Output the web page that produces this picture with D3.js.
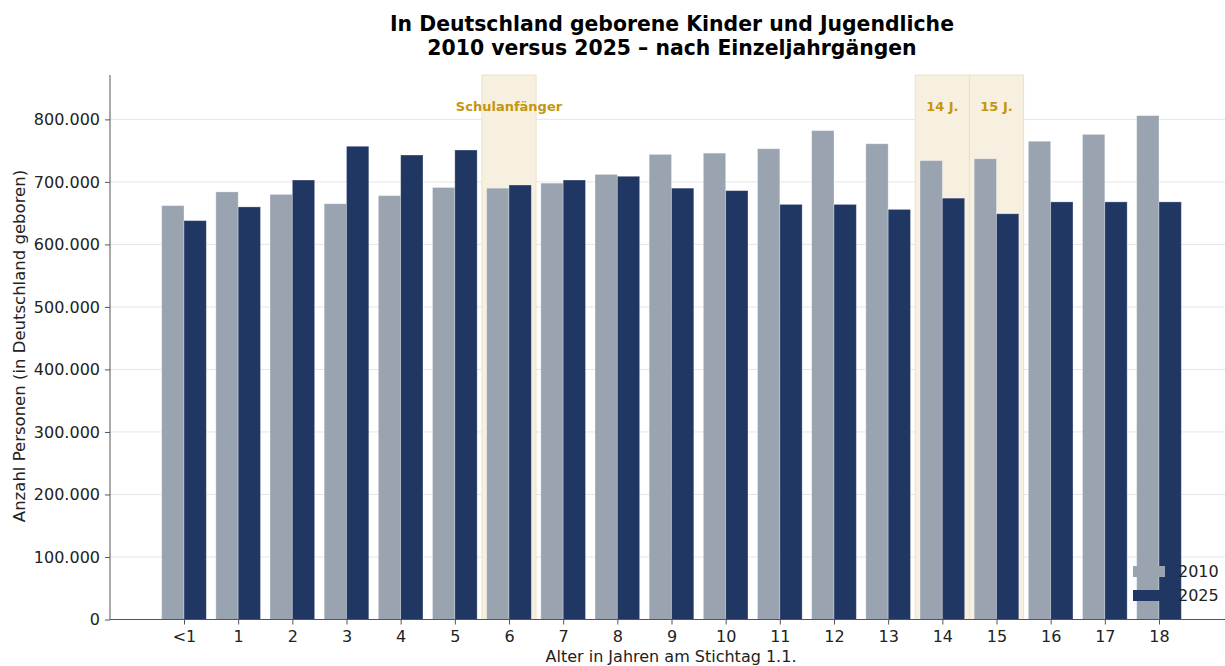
<!DOCTYPE html>
<meta charset="utf-8">
<head>
	<title>Kinder und Jugendliche 2010 vs 2025</title>
</head>

<style>

body{
	margin: 0;
	background: #fff;
}

svg{
	font-family: "DejaVu Sans", sans-serif;
}

.grid line{
	stroke: #e6e6e6;
}

</style>

<body>

<svg class="chart" width="1225" height="666"></svg>

<script src="https://cdnjs.cloudflare.com/ajax/libs/d3/7.8.5/d3.min.js"></script>
<script>

// Alter (Einzeljahrgänge)
var ages = ['<1', '1', '2', '3', '4', '5', '6', '7', '8', '9', '10', '11', '12', '13', '14', '15', '16', '17', '18'];

// Anzahl Personen, in Deutschland geboren
var values2010 = [662000, 684000, 680000, 665000, 678000, 691000, 690000, 698000, 712000, 744000,
	746000, 753000, 782000, 761000, 734000, 737000, 765000, 776000, 806000];
var values2025 = [638000, 660000, 703000, 757000, 743000, 751000, 695000, 703000, 709000, 690000,
	686000, 664000, 664000, 656000, 674000, 649000, 668000, 668000, 668000];

var seriesNames = ['2010', '2025'];
var colors = ['#9aa4b1', '#213763'];

var yTicks = [0, 100000, 200000, 300000, 400000, 500000, 600000, 700000, 800000];

// hervorgehobene Jahrgänge
var highlights = [
	{age: '6', label: 'Schulanfänger'},
	{age: '14', label: '14 J.'},
	{age: '15', label: '15 J.'}
];

var svg = d3.select('.chart');

// Plotbereich (window.top ist reserviert, daher eigene Namen)
var plotL = 110, plotR = 1225, plotT = 75, plotB = 619.5;

var x = d3.scalePoint()
	.domain(ages)
	.range([184, 1159]);
var step = x.step();
var barW = step * 0.412;

var y = d3.scaleLinear()
	.domain([0, 871000])
	.range([plotB, plotT]);

var fmt = function(d){
	return d3.format(',')(d).replace(/,/g, '.');
};

// grid
svg.append('g')
	.attr('class', 'grid')
	.selectAll('line')
	.data(yTicks)
	.enter()
	.append('line')
	.attr('x1', plotL)
	.attr('x2', plotR)
	.attr('y1', function(d){ return y(d); })
	.attr('y2', function(d){ return y(d); });

// highlight bands
var hl = svg.append('g');
hl.selectAll('rect')
	.data(highlights)
	.enter()
	.append('rect')
	.attr('x', function(d){ return x(d.age) - step / 2; })
	.attr('width', step)
	.attr('y', plotT)
	.attr('height', plotB - plotT)
	.attr('fill', '#f7f0e0')
	.attr('stroke', '#ede1c1')
	.attr('stroke-width', 1);

// bars
var series = [values2010, values2025];
svg.selectAll('.series')
	.data(series)
	.enter()
	.append('g')
	.classed('series', true)
	.style('fill', function(d, i){
		return colors[i];
	})
	.each(function(vals, si){
		d3.select(this)
			.selectAll('rect')
			.data(vals)
			.enter()
			.append('rect')
			.attr('x', function(d, i){
				return x(ages[i]) + (si === 0 ? -barW : 0);
			})
			.attr('width', barW)
			.attr('y', function(d){ return y(d); })
			.attr('height', function(d){ return y(0) - y(d); })
			.attr('stroke', 'rgba(255,255,255,0.35)')
			.attr('stroke-width', 0.8);
	});

// highlight labels
hl.selectAll('text')
	.data(highlights)
	.enter()
	.append('text')
	.attr('x', function(d){ return x(d.age); })
	.attr('y', 111)
	.attr('text-anchor', 'middle')
	.attr('font-size', 13)
	.attr('font-weight', 'bold')
	.attr('fill', '#c4960e')
	.text(function(d){ return d.label; });

// axes
var yAxis = d3.axisLeft(y)
	.tickValues(yTicks)
	.tickFormat(fmt)
	.tickSize(5)
	.tickPadding(5);
var gy = svg.append('g')
	.attr('transform', 'translate(' + plotL + ',0)')
	.call(yAxis);
gy.select('.domain').attr('d', 'M0,' + plotT + 'V' + plotB);

var xAxis = d3.axisBottom(x)
	.tickSize(5)
	.tickPadding(6);
var gx = svg.append('g')
	.attr('transform', 'translate(0,' + plotB + ')')
	.call(xAxis);
gx.select('.domain').attr('d', 'M' + plotL + ',0H' + plotR);

svg.selectAll('.tick text')
	.attr('font-size', 16)
	.attr('font-family', '"DejaVu Sans", sans-serif')
	.attr('fill', '#222');
svg.selectAll('.tick line').attr('stroke', '#555');
svg.selectAll('.domain').attr('stroke', '#555');

// titles
svg.append('text')
	.attr('x', 672)
	.attr('y', 31)
	.attr('text-anchor', 'middle')
	.attr('font-size', 20.4)
	.attr('font-weight', 'bold')
	.text('In Deutschland geborene Kinder und Jugendliche');
svg.append('text')
	.attr('x', 672)
	.attr('y', 55)
	.attr('text-anchor', 'middle')
	.attr('font-size', 20.4)
	.attr('font-weight', 'bold')
	.text('2010 versus 2025 – nach Einzeljahrgängen');

svg.append('text')
	.attr('x', 671)
	.attr('y', 662)
	.attr('text-anchor', 'middle')
	.attr('font-size', 16)
	.attr('fill', '#222')
	.text('Alter in Jahren am Stichtag 1.1.');

svg.append('text')
	.attr('transform', 'translate(25,346) rotate(-90)')
	.attr('text-anchor', 'middle')
	.attr('font-size', 16.5)
	.attr('fill', '#222')
	.text('Anzahl Personen (in Deutschland geboren)');

// legend
var legend = svg.append('g')
	.selectAll('g')
	.data(seriesNames)
	.enter()
	.append('g')
	.attr('transform', function(d, i){
		return 'translate(1133,' + (566 + i * 24) + ')';
	});
legend.append('rect')
	.attr('width', 32)
	.attr('height', 11)
	.attr('fill', function(d, i){ return colors[i]; });
legend.append('text')
	.attr('x', 45)
	.attr('y', 11)
	.attr('font-size', 16)
	.attr('fill', '#222')
	.text(function(d){ return d; });

</script>

</body>
</html>
